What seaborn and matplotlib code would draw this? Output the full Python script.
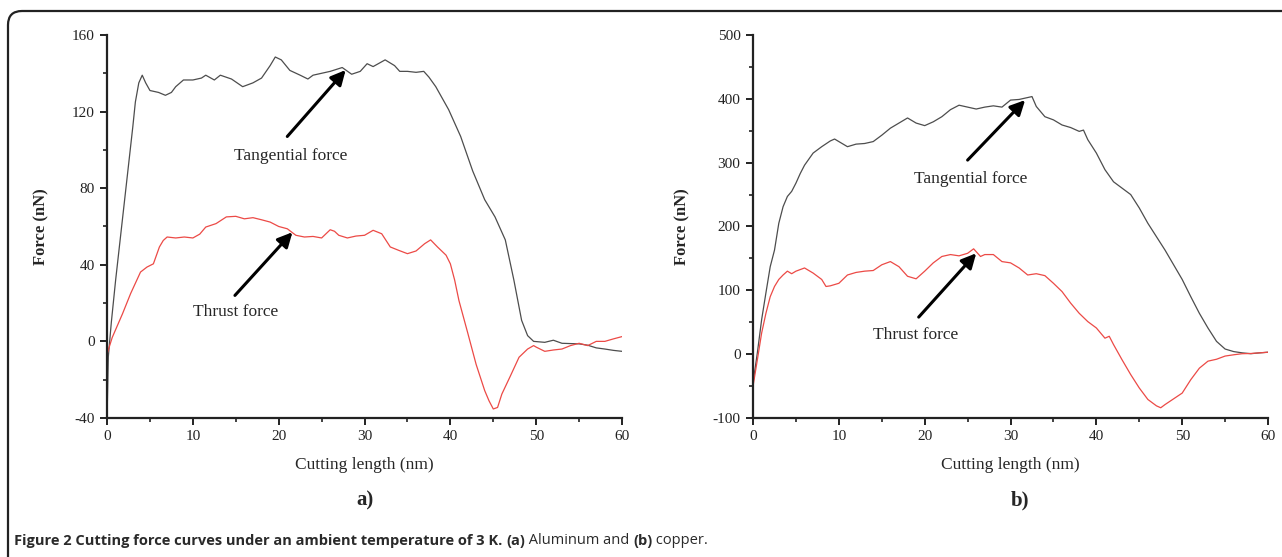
import numpy as np
import pandas as pd
import seaborn as sns
import matplotlib.pyplot as plt
from matplotlib.patches import FancyBboxPatch
from matplotlib.transforms import IdentityTransform

# (a) Aluminum
al_tan_x = [0, 0.15, 0.5, 1, 1.5, 2, 2.5, 3, 3.3, 3.7, 4.1, 4.5, 5, 5.5, 6, 6.8, 7.5, 8, 8.9,
            10, 11, 11.5, 12.5, 13.2, 14.5, 15.8, 17, 18, 19, 19.6, 20.3, 21.3, 22.5, 23.4,
            24, 25, 26, 27.4, 28.5, 29.5, 30.3, 31, 32.4, 33.5, 34.1, 35, 36, 36.9, 37.5,
            38.3, 39.8, 41.2, 42.6, 44, 45.2, 46.4, 47.4, 48.3, 49, 49.7, 51, 52, 53, 55,
            56, 57, 58, 59, 60]
al_tan_y = [-40, -8, 10, 32, 52, 72, 92, 112, 125, 135, 139, 135, 131, 130.5, 130, 128.5, 130,
            133, 136.5, 136.5, 137.5, 139, 136.5, 139, 137, 133, 135, 137.5, 144, 148.5,
            147, 141.5, 139, 137, 139, 140, 141, 143, 139.5, 141, 145, 143.5, 147, 144, 141,
            141, 140.5, 141, 138, 133, 121, 107, 89, 74, 65, 53, 32, 11, 3, 0, -0.5, 0.6,
            -1, -1.3, -2, -3.4, -4, -4.7, -5.2]

al_thr_x = [0, 0.6, 1.8, 2.75, 3.9, 4.65, 5.4, 6.1, 6.55, 7, 8, 9, 10, 10.8, 11.5, 12.7, 13.9,
            15, 16, 17, 18, 19, 20, 21, 22, 23, 24, 25, 26, 26.5, 27, 28, 29, 30, 31, 32,
            33, 34, 35, 36, 37, 37.7, 38.5, 39.5, 40, 40.5, 41, 42, 43, 44, 44.5, 45, 45.5,
            46, 47, 48, 49, 49.7, 50, 51, 52, 53, 54, 55, 56, 57, 58, 59, 60]
al_thr_y = [-6.6, 2, 14.4, 25, 36.2, 38.8, 40.5, 49.3, 52.7, 54.5, 54, 54.5, 54, 56, 59.7,
            61.5, 65, 65.3, 64, 64.6, 63.5, 62.3, 60, 58.8, 55.4, 54.5, 54.8, 54, 58.3, 57.5,
            55.4, 54, 55, 55.4, 58, 56.2, 49.3, 47.5, 45.8, 47.2, 51, 53, 49.3, 45, 40.5, 32,
            21.3, 4.8, -12, -25.7, -31, -35.3, -34.5, -27.5, -18, -8.3, -4, -2.2, -3, -5.2,
            -4.5, -4, -2.2, -1, -2.2, 0, 0, 1.3, 2.5]

# (b) Copper
cu_tan_x = [0, 0.5, 1, 1.5, 2, 2.5, 3, 3.5, 4, 4.5, 5, 5.5, 6, 7, 8, 9, 9.5, 10, 11, 12, 13,
            14, 15, 16, 17, 18, 19, 20, 21, 22, 23, 24, 25, 26, 27, 28, 29, 30, 31, 32, 32.5,
            33, 34, 35, 36, 37, 38, 38.5, 39, 40, 41, 42, 43, 44, 45, 46, 47, 48, 49, 50,
            51, 52, 53, 54, 55, 56, 57, 58, 59, 60]
cu_tan_y = [-45, 2, 54, 96, 137, 163, 205, 231, 247, 255, 268, 283, 296, 315, 325, 334, 337,
            333, 325, 329, 330, 333, 343, 354, 362, 370, 362, 358, 364, 372, 383, 390, 387,
            384, 387, 389, 387, 398, 399, 402, 403.5, 388, 372, 367, 359, 355, 349, 351, 336,
            315, 289, 270, 260, 250, 229, 205, 184, 163, 140, 117, 90, 64, 41, 20, 8, 4, 2,
            0.7, 2, 3]

cu_thr_x = [0, 0.5, 1, 1.5, 2, 2.5, 3, 3.5, 4, 4.5, 5, 6, 7, 8, 8.5, 9, 10, 11, 12, 13, 14,
            15, 16, 17, 18, 19, 20, 21, 22, 23, 24, 25, 25.7, 26.5, 27, 28, 29, 30, 31, 32,
            33, 34, 35, 36, 37, 38, 39, 40, 41, 41.5, 42, 43, 44, 45, 46, 47, 47.5, 48, 49,
            50, 51, 52, 53, 54, 55, 56, 57, 58, 59, 60]
cu_thr_y = [-50, -9, 33, 64, 90, 106, 117, 124, 130, 126, 130, 135, 127, 117, 106, 107, 111,
            124, 128, 130, 131, 140, 145, 137, 122, 118, 130, 143, 153, 156, 154, 158, 165,
            153, 156, 156, 145, 143, 135, 124, 126, 123, 111, 98, 80, 64, 51, 41, 25, 28, 15,
            -9, -32, -53, -71, -81, -84, -79, -70, -61, -40, -22, -11, -8, -3, -1, 0.7, 1, 2, 3]

GRAY = "#4d4d4d"
RED = "#ec4a46"

sns.set_style("ticks")
plt.rcParams['font.family'] = ['Liberation Serif', 'DejaVu Serif']
plt.rcParams['axes.unicode_minus'] = False

fig = plt.figure(figsize=(12.82, 5.57), dpi=100)
ax1 = fig.add_axes([0.0835, 0.2496, 0.4017, 0.6876])
ax2 = fig.add_axes([0.5874, 0.2496, 0.4017, 0.6876])

panels = [
    (ax1, al_tan_x, al_tan_y, al_thr_x, al_thr_y, (-40, 160), 40, 20),
    (ax2, cu_tan_x, cu_tan_y, cu_thr_x, cu_thr_y, (-100, 500), 100, 50),
]

for ax, tx, ty, rx, ry, ylim, ymaj, ymin in panels:
    sns.lineplot(x=tx, y=ty, ax=ax, color=GRAY, lw=0.9, estimator=None)
    sns.lineplot(x=rx, y=ry, ax=ax, color=RED, lw=0.9, estimator=None)
    ax.set_xlim(0, 60)
    ax.set_ylim(*ylim)
    ax.set_xticks(np.arange(0, 61, 10))
    ax.set_xticks(np.arange(0, 61, 5), minor=True)
    ax.set_yticks(np.arange(ylim[0], ylim[1] + 1, ymaj))
    ax.set_yticks(np.arange(ylim[0], ylim[1] + 1, ymin), minor=True)
    ax.spines['top'].set_visible(False)
    ax.spines['right'].set_visible(False)
    for s in ['left', 'bottom']:
        ax.spines[s].set_linewidth(1.6)
        ax.spines[s].set_color('#222222')
    ax.tick_params(which='major', direction='out', length=5, width=1.4, labelsize=11,
                   colors='#222222', pad=4)
    ax.tick_params(which='minor', direction='out', length=3, width=1.2, colors='#222222')
    ax.set_xlabel('Cutting length (nm)', fontsize=12.5, labelpad=10)
    ax.set_ylabel('Force (nN)', fontsize=12, fontweight='bold', labelpad=16)
    ax.patch.set_visible(False)

arrow = dict(arrowstyle='-|>', color='black', lw=2.2, mutation_scale=22, shrinkA=0, shrinkB=0)

# annotations (a)
ax1.annotate('', xy=(27.8, 141.7), xytext=(21.0, 107), arrowprops=arrow)
ax1.text(21.4, 97, 'Tangential force', ha='center', va='center', fontsize=12.5)
ax1.annotate('', xy=(21.6, 57), xytext=(14.9, 24), arrowprops=arrow)
ax1.text(15.0, 15.3, 'Thrust force', ha='center', va='center', fontsize=12.5)

# annotations (b)
ax2.annotate('', xy=(31.7, 398), xytext=(25.0, 304), arrowprops=arrow)
ax2.text(25.3, 274, 'Tangential force', ha='center', va='center', fontsize=12.5)
ax2.annotate('', xy=(26.0, 158), xytext=(19.3, 58), arrowprops=arrow)
ax2.text(18.9, 30, 'Thrust force', ha='center', va='center', fontsize=12.5)

# panel letters
fig.text(365 / 1282, 1 - 500 / 557, 'a)', ha='center', va='center', fontsize=15, fontweight='bold')
fig.text(1020 / 1282, 1 - 500 / 557, 'b)', ha='center', va='center', fontsize=15, fontweight='bold')

# rounded frame around the figure
frame = FancyBboxPatch((8, -30), 1320, 557 - 11 + 30, boxstyle='round,pad=0,rounding_size=14',
                       transform=IdentityTransform(), fill=False, ec='#222222', lw=1.6,
                       clip_on=False)
fig.patches.append(frame)

# caption, pieces in bold and regular
pieces = [
    ('Figure 2 Cutting force curves under an ambient temperature of 3 K. ', 'bold'),
    ('(a)', 'bold'), (' Aluminum and ', 'normal'), ('(b)', 'bold'), (' copper.', 'normal'),
]
fig.canvas.draw()
renderer = fig.canvas.get_renderer()
xpos = 14
for txt, weight in pieces:
    t = fig.text(xpos / 1282, 1 - 541 / 557, txt, ha='left', va='center', fontsize=10.5,
                 fontweight=weight, color='#2a2a2a', family=['Open Sans', 'DejaVu Sans'])
    bb = t.get_window_extent(renderer)
    xpos += bb.width

fig.savefig('out.png', dpi=100)
